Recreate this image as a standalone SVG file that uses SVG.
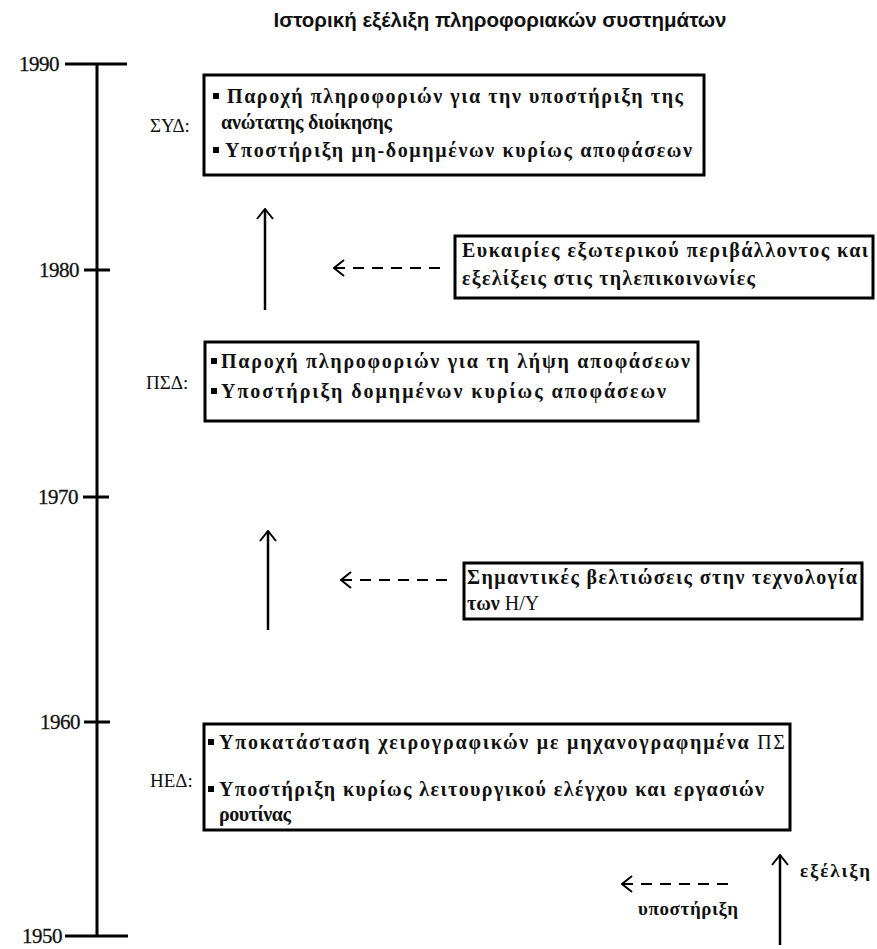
<svg xmlns="http://www.w3.org/2000/svg" width="877" height="949" viewBox="0 0 877 949">
  <style>
    .title { font-family: "Liberation Sans", Arial, sans-serif; font-weight: bold; font-size: 20.5px; fill: #111; }
    .year { font-family: "Liberation Serif", "DejaVu Serif", serif; font-size: 21px; fill: #111; letter-spacing: -0.5px; stroke: #111; stroke-width: 0.3px; }
    .tag { font-family: "Liberation Serif", "DejaVu Serif", serif; font-size: 19px; fill: #111; }
    .body { font-family: "Liberation Serif", "DejaVu Serif", serif; font-weight: bold; font-size: 20px; fill: #111; }
    .key { font-size: 19px; }
    .plain { font-weight: normal; font-size: 20px; }
    .axis { stroke: #000; stroke-width: 3; fill: none; }
    .box { fill: #fff; stroke: #000; stroke-width: 3; }
    .flow { stroke: #000; stroke-width: 2.5; fill: none; }
    .dash { stroke: #000; stroke-width: 2; fill: none; stroke-dasharray: 11 8; }
    .bullet { fill: #000; }
  </style>
  <defs>
    <marker id="open-head" viewBox="0 0 12 18" refX="11" refY="9" markerWidth="12" markerHeight="18" markerUnits="userSpaceOnUse" orient="auto-start-reverse">
      <path d="M1,1 L11,9 L1,17" fill="none" stroke="#000" stroke-width="2"/>
    </marker>
  </defs>

  <text class="title" x="500" y="27" text-anchor="middle">Ιστορική εξέλιξη πληροφοριακών συστημάτων</text>

  <!-- time axis -->
  <g id="timeline">
    <line class="axis" x1="97" y1="64" x2="97" y2="936"/>
    <line class="axis" x1="65" y1="64" x2="127" y2="64"/>
    <line class="axis" x1="84" y1="270" x2="110" y2="270"/>
    <line class="axis" x1="83" y1="497" x2="109" y2="497"/>
    <line class="axis" x1="84" y1="722" x2="110" y2="722"/>
    <line class="axis" x1="65" y1="936" x2="128" y2="936"/>
    <text class="year" x="59" y="71" text-anchor="end">1990</text>
    <text class="year" x="79" y="277" text-anchor="end">1980</text>
    <text class="year" x="78" y="504" text-anchor="end">1970</text>
    <text class="year" x="80" y="729" text-anchor="end">1960</text>
    <text class="year" x="62" y="943" text-anchor="end">1950</text>
  </g>

  <!-- ΣΥΔ -->
  <g id="box-syd">
    <text class="tag" x="150" y="132">ΣΥΔ:</text>
    <rect class="box" x="204" y="75" width="500" height="100"/>
    <rect class="bullet" x="213" y="93" width="6" height="6"/>
    <text class="body" x="227" y="103" textLength="456" lengthAdjust="spacing">Παροχή πληροφοριών για την υποστήριξη της</text>
    <text class="body" x="221" y="129" textLength="171" lengthAdjust="spacing">ανώτατης διοίκησης</text>
    <rect class="bullet" x="213" y="147" width="6" height="6"/>
    <text class="body" x="225" y="157" textLength="467" lengthAdjust="spacing">Υποστήριξη μη-δομημένων κυρίως αποφάσεων</text>
  </g>

  <!-- external factor 1980 -->
  <g id="factor-telecom">
    <rect class="box" x="455" y="236" width="418" height="62"/>
    <text class="body" x="462" y="257" textLength="406" lengthAdjust="spacing">Ευκαιρίες εξωτερικού περιβάλλοντος και</text>
    <text class="body" x="462" y="285" textLength="293" lengthAdjust="spacing">εξελίξεις στις τηλεπικοινωνίες</text>
  </g>

  <!-- ΠΣΔ -->
  <g id="box-psd">
    <text class="tag" x="146" y="389">ΠΣΔ:</text>
    <rect class="box" x="205" y="342" width="493" height="79"/>
    <rect class="bullet" x="211" y="358" width="6" height="6"/>
    <text class="body" x="221" y="368" textLength="469" lengthAdjust="spacing">Παροχή πληροφοριών για τη λήψη αποφάσεων</text>
    <rect class="bullet" x="211" y="388" width="6" height="6"/>
    <text class="body" x="221" y="398" textLength="445" lengthAdjust="spacing">Υποστήριξη δομημένων κυρίως αποφάσεων</text>
  </g>

  <!-- external factor 1970 -->
  <g id="factor-computers">
    <rect class="box" x="464" y="563" width="398" height="56"/>
    <text class="body" x="467" y="584" textLength="390" lengthAdjust="spacing">Σημαντικές βελτιώσεις στην τεχνολογία</text>
    <text class="body" x="467" y="610">των <tspan class="plain">Η/Υ</tspan></text>
  </g>

  <!-- ΗΕΔ -->
  <g id="box-hed">
    <text class="tag" x="150" y="787">ΗΕΔ:</text>
    <rect class="box" x="204" y="724" width="586" height="106"/>
    <rect class="bullet" x="208" y="739" width="6" height="6"/>
    <text class="body" x="219" y="749" textLength="566" lengthAdjust="spacing">Υποκατάσταση χειρογραφικών με μηχανογραφημένα <tspan class="plain">ΠΣ</tspan></text>
    <rect class="bullet" x="208" y="786" width="6" height="6"/>
    <text class="body" x="219" y="796" textLength="545" lengthAdjust="spacing">Υποστήριξη κυρίως λειτουργικού ελέγχου και εργασιών</text>
    <text class="body" x="219" y="821" textLength="72" lengthAdjust="spacing">ρουτίνας</text>
  </g>

  <!-- connectors -->
  <g id="connectors">
    <line class="flow" x1="265" y1="310" x2="265" y2="209" marker-end="url(#open-head)"/>
    <line class="flow" x1="268" y1="630" x2="268" y2="531" marker-end="url(#open-head)"/>
    <line class="dash" x1="334" y1="268" x2="440" y2="268" marker-start="url(#open-head)"/>
    <line class="dash" x1="341" y1="580" x2="447" y2="580" marker-start="url(#open-head)"/>
  </g>

  <!-- key -->
  <g id="legend">
    <line class="dash" x1="622" y1="884" x2="728" y2="884" marker-start="url(#open-head)"/>
    <text class="body key" x="638" y="915" textLength="100" lengthAdjust="spacing">υποστήριξη</text>
    <line class="flow" x1="780" y1="945" x2="780" y2="855" marker-end="url(#open-head)"/>
    <text class="body key" x="800" y="877" textLength="70" lengthAdjust="spacing">εξέλιξη</text>
  </g>
</svg>
